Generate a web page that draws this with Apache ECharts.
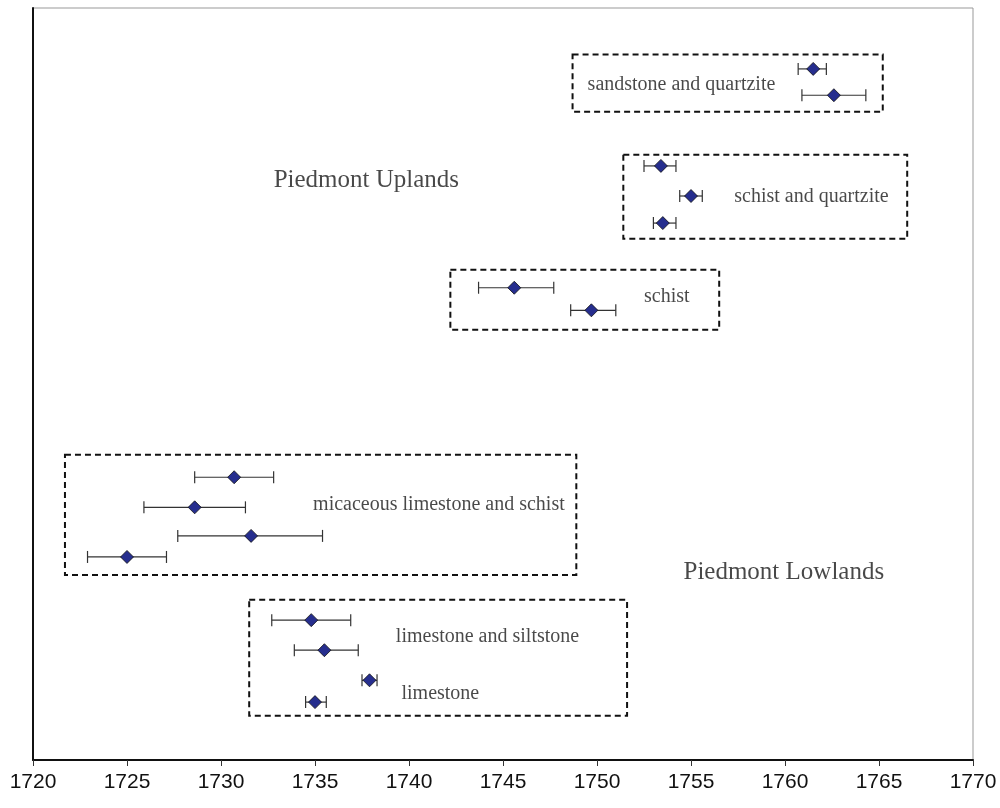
<!DOCTYPE html>
<html>
<head>
<meta charset="utf-8">
<script src="https://cdn.jsdelivr.net/npm/echarts@6/dist/echarts.min.js"></script>
<style>
  html, body { margin: 0; padding: 0; background: #fff; }
  #chart { width: 1000px; height: 808px; }
</style>
</head>
<body>
<div id="chart"></div>
<script>
// 年份（x）与行位置（y，无量纲）
const points = [
  // [中心, 下限, 上限, 行]
  [1761.5, 1760.7, 1762.2, 91.9],
  [1762.6, 1760.9, 1764.3, 88.4],
  [1753.4, 1752.5, 1754.2, 79.0],
  [1755.0, 1754.4, 1755.6, 75.0],
  [1753.5, 1753.0, 1754.2, 71.4],
  [1745.6, 1743.7, 1747.7, 62.8],
  [1749.7, 1748.6, 1751.0, 59.8],
  [1730.7, 1728.6, 1732.8, 37.6],
  [1728.6, 1725.9, 1731.3, 33.6],
  [1731.6, 1727.7, 1735.4, 29.8],
  [1725.0, 1722.9, 1727.1, 27.0],
  [1734.8, 1732.7, 1736.9, 18.6],
  [1735.5, 1733.9, 1737.3, 14.6],
  [1737.9, 1737.5, 1738.3, 10.6],
  [1735.0, 1734.5, 1735.6, 7.7]
];

// 虚线框 [x1, y1, x2, y2]
const boxes = [
  [1748.7, 93.8, 1765.2, 86.2],
  [1751.4, 80.5, 1766.5, 69.3],
  [1742.2, 65.2, 1756.5, 57.2],
  [1721.7, 40.6, 1748.9, 24.6],
  [1731.5, 21.3, 1751.6, 5.9]
];

// 文字标注 [x, y, 文本]
const notes = [
  [1749.5, 89.8, 'sandstone and quartzite'],
  [1757.3, 74.9, 'schist and quartzite'],
  [1752.5, 61.6, 'schist'],
  [1734.9, 33.9, 'micaceous limestone and schist'],
  [1739.3, 16.4, 'limestone and siltstone'],
  [1739.6, 8.8, 'limestone']
];
const regions = [
  [1732.8, 77.1, 'Piedmont Uplands'],
  [1754.6, 25.0, 'Piedmont Lowlands']
];

const xTicks = [1720, 1770, 5]; // min, max, interval

const chart = echarts.init(document.getElementById('chart'));

chart.setOption({
  animation: false,
  grid: { left: 33, right: 27, top: 8, bottom: 48, show: true, borderColor: '#999', borderWidth: 1 },
  xAxis: {
    type: 'value', min: xTicks[0], max: xTicks[1], interval: xTicks[2],
    splitLine: { show: false },
    axisLine: { show: true, lineStyle: { color: '#111', width: 2 } },
    axisTick: { show: true, length: 6, lineStyle: { color: '#333' } },
    axisLabel: {
      color: '#111', fontSize: 21, fontFamily: '"Liberation Sans Narrow", "Liberation Sans"', margin: 12,
      formatter: v => String(v)
    }
  },
  yAxis: {
    type: 'value', min: 0, max: 100,
    splitLine: { show: false },
    axisLine: { show: true, lineStyle: { color: '#111', width: 2 } },
    axisTick: { show: false },
    axisLabel: { show: false }
  },
  series: [
    {
      // 误差线
      type: 'custom',
      data: points.map(p => [p[1], p[2], p[3]]),
      renderItem(params, api) {
        const a = api.coord([api.value(0), api.value(2)]);
        const b = api.coord([api.value(1), api.value(2)]);
        const h = 6;
        const style = { stroke: '#333', lineWidth: 1.2 };
        return {
          type: 'group',
          children: [
            { type: 'line', shape: { x1: a[0], y1: a[1], x2: b[0], y2: b[1] }, style },
            { type: 'line', shape: { x1: a[0], y1: a[1] - h, x2: a[0], y2: a[1] + h }, style },
            { type: 'line', shape: { x1: b[0], y1: b[1] - h, x2: b[0], y2: b[1] + h }, style }
          ]
        };
      },
      z: 2
    },
    {
      type: 'scatter',
      data: points.map(p => [p[0], p[3]]),
      symbol: 'diamond',
      symbolSize: 13,
      itemStyle: { color: '#262e8e', borderColor: '#111', borderWidth: 0.8, opacity: 1 },
      z: 3,
      markArea: {
        silent: true,
        itemStyle: { color: 'rgba(0,0,0,0)', borderColor: '#111', borderWidth: 2, borderType: [6, 4] },
        data: boxes.map(b => [{ coord: [b[0], b[1]] }, { coord: [b[2], b[3]] }])
      }
    },
    {
      type: 'scatter',
      data: notes.map(n => ({ value: [n[0], n[1]], name: n[2] })),
      symbolSize: 0,
      label: {
        show: true, position: 'right', distance: 0,
        formatter: '{b}', color: '#1a1a1a', fontSize: 20, fontFamily: 'Liberation Serif'
      },
      z: 4
    },
    {
      type: 'scatter',
      data: regions.map(n => ({ value: [n[0], n[1]], name: n[2] })),
      symbolSize: 0,
      label: {
        show: true, position: 'right', distance: 0,
        formatter: '{b}', color: '#1a1a1a', fontSize: 25, fontFamily: 'Liberation Serif'
      },
      z: 4
    }
  ]
});
</script>
</body>
</html>
